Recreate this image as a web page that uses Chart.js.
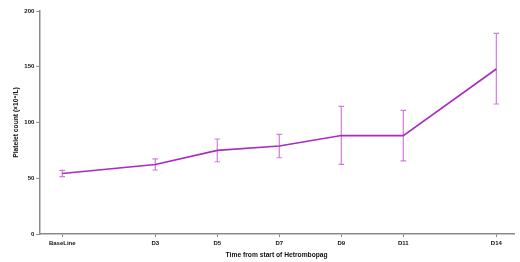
<!DOCTYPE html>
<html>
<head>
<meta charset="utf-8">
<script src="https://cdn.jsdelivr.net/npm/chart.js@4/dist/chart.umd.min.js"></script>
<style>
  html, body { margin: 0; padding: 0; background: #fff; }
  canvas { display: block; }
</style>
</head>
<body>
<canvas id="plateletChart" width="520" height="262"></canvas>
<script>
// Platelet count over time, mean with error bars

const days = [0, 3, 5, 7, 9, 11, 14];
const dayLabels = ['BaseLine', 'D3', 'D5', 'D7', 'D9', 'D11', 'D14'];
const meanCount = [54.3, 62.4, 75.0, 78.9, 88.4, 88.2, 148.0];
const errUpper = [57.0, 67.3, 85.2, 89.3, 114.4, 110.9, 179.9];
const errLower = [51.4, 57.4, 64.8, 68.4, 62.4, 65.5, 116.6];
const yTicks = [0, 50, 100, 150, 200];

const axisColor = '#8a8a8a';
const textColor = '#111';
const fontFamily = '"Liberation Sans", Arial, sans-serif';

// draw vertical error bars with caps under the line
const errorBars = {
  id: 'errorBars',
  beforeDatasetsDraw(chart) {
    const { ctx, scales: { x, y } } = chart;
    ctx.save();
    ctx.strokeStyle = '#cf7ddb';
    ctx.lineWidth = 1.2;
    days.forEach((d, i) => {
      const px = x.getPixelForValue(d);
      const top = y.getPixelForValue(errUpper[i]);
      const bot = y.getPixelForValue(errLower[i]);
      ctx.beginPath();
      ctx.moveTo(px, top);
      ctx.lineTo(px, bot);
      ctx.moveTo(px - 2.8, top);
      ctx.lineTo(px + 2.8, top);
      ctx.moveTo(px - 2.8, bot);
      ctx.lineTo(px + 2.8, bot);
      ctx.stroke();
    });
    ctx.restore();
  }
};

const ctx = document.getElementById('plateletChart').getContext('2d');

new Chart(ctx, {
  type: 'line',
  data: {
    datasets: [{
      label: 'Platelet count',
      data: days.map((d, i) => ({ x: d, y: meanCount[i] })),
      borderColor: '#a92bc2',
      borderWidth: 1.6,
      pointRadius: 0,
      tension: 0,
      fill: false
    }]
  },
  options: {
    responsive: false,
    animation: false,
    layout: { padding: { left: 0, right: 6, top: 11, bottom: 0 } },
    plugins: {
      legend: { display: false },
      tooltip: { enabled: false }
    },
    scales: {
      x: {
        type: 'linear',
        min: -0.74,
        max: 14.57,
        afterFit(scale) { scale.height = 28; },
        afterBuildTicks(scale) { scale.ticks = days.map(v => ({ value: v })); },
        grid: { drawOnChartArea: false, drawTicks: true, tickLength: 3, color: axisColor, lineWidth: 1 },
        border: { display: true, color: axisColor, width: 1.5 },
        ticks: {
          autoSkip: false,
          maxRotation: 0,
          padding: 3,
          color: textColor,
          font: { family: fontFamily, size: 6, weight: 'bold' },
          callback: (v) => dayLabels[days.indexOf(v)]
        },
        title: {
          display: true,
          text: 'Time from start of Hetrombopag',
          color: textColor,
          padding: { top: 0, bottom: 3 },
          font: { family: fontFamily, size: 6.7, weight: 'bold' }
        }
      },
      y: {
        min: 0,
        max: 200,
        afterFit(scale) { scale.width = 39.3; },
        afterBuildTicks(scale) { scale.ticks = yTicks.map(v => ({ value: v })); },
        grid: { drawOnChartArea: false, drawTicks: true, tickLength: 3, color: axisColor, lineWidth: 1 },
        border: { display: true, color: axisColor, width: 1.5 },
        ticks: {
          padding: 2,
          color: textColor,
          font: { family: fontFamily, size: 6, weight: 'bold' }
        },
        title: {
          display: true,
          text: 'Platelet count (×10⁹/L)',
          color: textColor,
          padding: { top: 11.7, bottom: 0 },
          font: { family: fontFamily, size: 6.7, weight: 'bold' }
        }
      }
    }
  },
  plugins: [errorBars]
});
</script>
</body>
</html>
